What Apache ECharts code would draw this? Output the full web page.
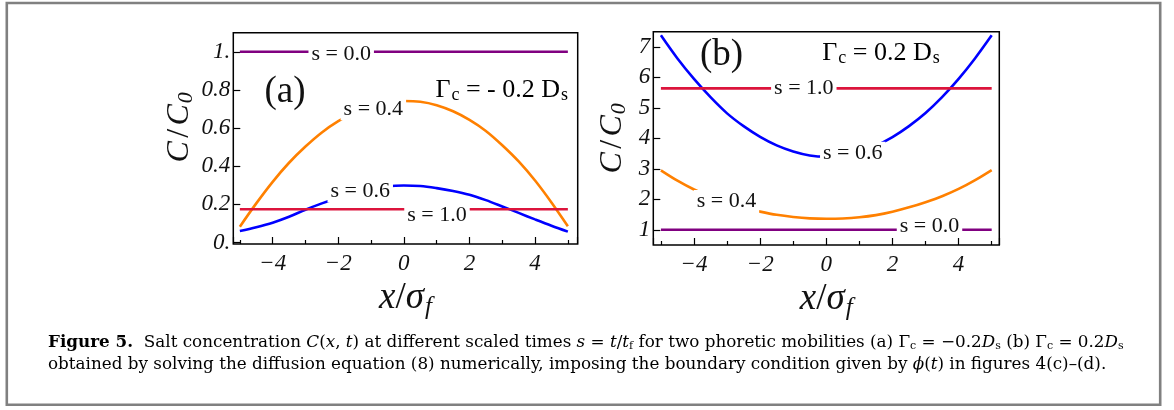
<!DOCTYPE html>
<html>
<head>
<meta charset="utf-8">
<script src="https://cdn.jsdelivr.net/npm/echarts@6/dist/echarts.min.js"></script>
<style>
  html, body { margin: 0; padding: 0; background: #fff; }
  #chart { width: 1174px; height: 410px; }
</style>
</head>
<body>
<div id="chart"></div>
<script>
// Sample positions x / sigma_f shared by every profile
const xs = [-5, -4.5, -4, -3.5, -3, -2.5, -2, -1.5, -1, -0.5, 0, 0.5, 1, 1.5, 2, 2.5, 3, 3.5, 4, 4.5, 5];

// Panel (a): Gamma_c = -0.2 D_s, C / C0 at scaled times s
const a_s00 = [1, 1, 1, 1, 1, 1, 1, 1, 1, 1, 1, 1, 1, 1, 1, 1, 1, 1, 1, 1, 1];
const a_s04 = [0.083, 0.205, 0.318, 0.418, 0.503, 0.577, 0.636, 0.682, 0.715, 0.735, 0.742, 0.738, 0.72, 0.688, 0.643, 0.585, 0.51, 0.425, 0.325, 0.21, 0.085];
const a_s06 = [0.060, 0.080, 0.104, 0.135, 0.172, 0.205, 0.235, 0.262, 0.282, 0.295, 0.299, 0.296, 0.285, 0.270, 0.250, 0.222, 0.189, 0.155, 0.121, 0.088, 0.057];
const a_s10 = [0.174, 0.174, 0.174, 0.174, 0.174, 0.174, 0.174, 0.174, 0.174, 0.174, 0.174, 0.174, 0.174, 0.174, 0.174, 0.174, 0.174, 0.174, 0.174, 0.174, 0.174];

// Panel (b): Gamma_c = 0.2 D_s
const b_s00 = [1, 1, 1, 1, 1, 1, 1, 1, 1, 1, 1, 1, 1, 1, 1, 1, 1, 1, 1, 1, 1];
const b_s04 = [2.95, 2.61, 2.32, 2.08, 1.89, 1.72, 1.595, 1.49, 1.42, 1.375, 1.36, 1.37, 1.41, 1.48, 1.59, 1.735, 1.905, 2.10, 2.34, 2.63, 2.96];
const b_s06 = [7.38, 6.62, 5.95, 5.35, 4.82, 4.40, 4.05, 3.77, 3.57, 3.44, 3.40, 3.44, 3.56, 3.76, 4.04, 4.40, 4.83, 5.35, 5.95, 6.63, 7.38];
const b_s10 = [5.64, 5.64, 5.64, 5.64, 5.64, 5.64, 5.64, 5.64, 5.64, 5.64, 5.64, 5.64, 5.64, 5.64, 5.64, 5.64, 5.64, 5.64, 5.64, 5.64, 5.64];

// Curve labels and the (x, C/C0) point each one is centred on
const a_labelText = ['s = 0.0', 's = 0.4', 's = 0.6', 's = 1.0'];
const a_labelAt = [[-1.91, 0.987], [-0.93, 0.701], [-1.33, 0.27], [1.01, 0.144]];
const b_labelText = ['s = 0.0', 's = 0.4', 's = 0.6', 's = 1.0'];
const b_labelAt = [[3.12, 1.11], [-3.02, 1.93], [0.80, 3.51], [-0.68, 5.64]];

// Axis tick labels
const a_yTickText = { '0': '0.', '0.2': '0.2', '0.4': '0.4', '0.6': '0.6', '0.8': '0.8', '1': '1.' };
const b_yTickText = { '1': '1', '2': '2', '3': '3', '4': '4', '5': '5', '6': '6', '7': '7' };

const COLORS = { s00: '#800080', s04: '#ff8000', s06: '#0000ff', s10: '#dc143c' };
const SERIF = "'Liberation Serif', 'DejaVu Serif', serif";
const CAPTION_FONT = "'DejaVu Serif', serif";

function pairs(ys) { return xs.map((x, i) => [x, ys[i]]); }

function curve(name, ys, color, idx) {
  return {
    name, type: 'line', data: pairs(ys), xAxisIndex: idx, yAxisIndex: idx,
    showSymbol: false, smooth: 0.35, silent: true, z: 2,
    lineStyle: { color, width: 2.6 }
  };
}

function curveLabels(texts, at, idx) {
  return {
    type: 'scatter', xAxisIndex: idx, yAxisIndex: idx, symbolSize: 0, silent: true, z: 5,
    itemStyle: { opacity: 1 },
    data: at.map((p, i) => ({ value: p, name: texts[i] })),
    label: {
      show: true, position: 'inside', formatter: p => p.name, opacity: 1,
      fontFamily: SERIF, fontSize: 22, color: '#111',
      backgroundColor: '#fff', padding: [1, 3, 0, 3]
    }
  };
}

function fmtNum(v) {
  const r = Math.round(v * 1000) / 1000;
  return r < 0 ? '\u2212' + Math.abs(r) : String(r);
}

function xAxis(idx, min, max) {
  return {
    type: 'value', gridIndex: idx, min, max, splitNumber: 5,
    axisLine: { show: false, onZero: false },
    splitLine: { show: false },
    axisTick: { show: true, inside: true, length: 7, lineStyle: { color: '#000', width: 1.2 } },
    minorTick: { show: true, splitNumber: 2, length: 4, lineStyle: { color: '#000', width: 1.2 } },
    axisLabel: {
      showMinLabel: false, showMaxLabel: false, margin: 8,
      fontFamily: SERIF, fontStyle: 'italic', fontSize: 23, color: '#111',
      formatter: fmtNum
    },
    name: '{i|x}{n|/}{i|\u03c3}{sub|f}', nameLocation: 'middle', nameGap: 33,
    nameTextStyle: {
      rich: {
        i: { fontFamily: SERIF, fontStyle: 'italic', fontSize: 37, color: '#111' },
        n: { fontFamily: SERIF, fontSize: 37, color: '#111' },
        sub: { fontFamily: SERIF, fontStyle: 'italic', fontSize: 25, color: '#111', padding: [18, 0, 0, 1] }
      }
    }
  };
}

function yAxis(idx, min, max, split, ticks, gap, lift) {
  return {
    type: 'value', gridIndex: idx, min, max, splitNumber: split,
    axisLine: { show: false, onZero: false },
    splitLine: { show: false },
    axisTick: { show: true, inside: true, length: 7, lineStyle: { color: '#000', width: 1.2 } },
    axisLabel: {
      showMinLabel: false, showMaxLabel: false, margin: 3,
      fontFamily: SERIF, fontStyle: 'italic', fontSize: 23, color: '#111',
      formatter: v => { const k = String(Math.round(v * 1000) / 1000); return ticks[k] !== undefined ? ticks[k] : ''; }
    },
    name: '{i|C} {n|/} {i|C}{sub|0}', nameLocation: 'middle', nameGap: gap, nameRotate: 90,
    nameTextStyle: {
      padding: [0, 0, 0, lift],
      rich: {
        i: { fontFamily: SERIF, fontStyle: 'italic', fontSize: 32, color: '#111' },
        n: { fontFamily: SERIF, fontSize: 32, color: '#111' },
        sub: { fontFamily: SERIF, fontStyle: 'italic', fontSize: 22, color: '#111', padding: [14, 0, 0, 1] }
      }
    }
  };
}

const captionRich = {
  b: { fontFamily: CAPTION_FONT, fontWeight: 'bold', fontSize: 16.8, color: '#222' },
  r: { fontFamily: CAPTION_FONT, fontSize: 16.8, color: '#222' },
  i: { fontFamily: CAPTION_FONT, fontStyle: 'italic', fontSize: 16.8, color: '#222' },
  sub: { fontFamily: CAPTION_FONT, fontSize: 11, color: '#222', padding: [7, 0, 0, 0] },
  link: { fontFamily: CAPTION_FONT, fontSize: 16.8, color: '#2a8fd0' }
};

const caption1 = '{b|Figure 5.}{r|  Salt concentration }{i|C}{r|(}{i|x}{r|, }{i|t}{r|) at different scaled times }{i|s}{r| = }{i|t}{r|/}{i|t}{sub|f}{r| for two phoretic mobilities (a) \u0393}{sub|c}{r| = \u22120.2}{i|D}{sub|s}{r| (b) \u0393}{sub|c}{r| = 0.2}{i|D}{sub|s}';
const caption2 = '{r|obtained by solving the diffusion equation (}{link|8}{r|) numerically, imposing the boundary condition given by }{i|\u03d5}{r|(}{i|t}{r|) in figures }{link|4}{r|(c)\u2013(d).}';

const annRich = {
  g: { fontFamily: SERIF, fontSize: 26, color: '#111' },
  sub: { fontFamily: SERIF, fontSize: 18, color: '#111', padding: [11, 0, 0, 1] }
};

const chart = echarts.init(document.getElementById('chart'), null, { renderer: 'canvas' });
chart.setOption({
  backgroundColor: '#fff',
  animation: false,
  grid: [
    { left: 233.3, top: 32.7, width: 344.4, height: 211.3, show: true, borderColor: '#000', borderWidth: 1.5, backgroundColor: 'transparent' },
    { left: 653.3, top: 31.7, width: 346, height: 213.3, show: true, borderColor: '#000', borderWidth: 1.5, backgroundColor: 'transparent' }
  ],
  xAxis: [xAxis(0, -5.2, 5.3), xAxis(1, -5.23, 5.23)],
  yAxis: [yAxis(0, -0.008, 1.1, 5, a_yTickText, 35, 22), yAxis(1, 0.5, 7.5, 7, b_yTickText, 23, 0)],
  series: [
    curve('s = 0.0', a_s00, COLORS.s00, 0),
    curve('s = 0.4', a_s04, COLORS.s04, 0),
    curve('s = 0.6', a_s06, COLORS.s06, 0),
    curve('s = 1.0', a_s10, COLORS.s10, 0),
    curveLabels(a_labelText, a_labelAt, 0),
    curve('s = 0.0', b_s00, COLORS.s00, 1),
    curve('s = 0.4', b_s04, COLORS.s04, 1),
    curve('s = 0.6', b_s06, COLORS.s06, 1),
    curve('s = 1.0', b_s10, COLORS.s10, 1),
    curveLabels(b_labelText, b_labelAt, 1)
  ],
  graphic: [
    { type: 'rect', shape: { x: 6.8, y: 3, width: 1153.4, height: 401.7 }, style: { fill: 'none', stroke: '#808080', lineWidth: 2.6 }, silent: true },
    { type: 'text', x: 285, y: 92, style: { text: '(a)', fontFamily: SERIF, fontSize: 37, fill: '#111', align: 'center', verticalAlign: 'middle' } },
    { type: 'text', x: 721.5, y: 55, style: { text: '(b)', fontFamily: SERIF, fontSize: 37, fill: '#111', align: 'center', verticalAlign: 'middle' } },
    { type: 'text', x: 568, y: 90, style: { text: '{g|\u0393}{sub|c}{g| = - 0.2 D}{sub|s}', rich: annRich, align: 'right', verticalAlign: 'middle' } },
    { type: 'text', x: 881, y: 53, style: { text: '{g|\u0393}{sub|c}{g| = 0.2 D}{sub|s}', rich: annRich, align: 'center', verticalAlign: 'middle' } },
    { type: 'text', x: 48, y: 343, style: { text: caption1, rich: captionRich, align: 'left', verticalAlign: 'middle' } },
    { type: 'text', x: 48, y: 365, style: { text: caption2, rich: captionRich, align: 'left', verticalAlign: 'middle' } }
  ]
});
</script>
</body>
</html>
